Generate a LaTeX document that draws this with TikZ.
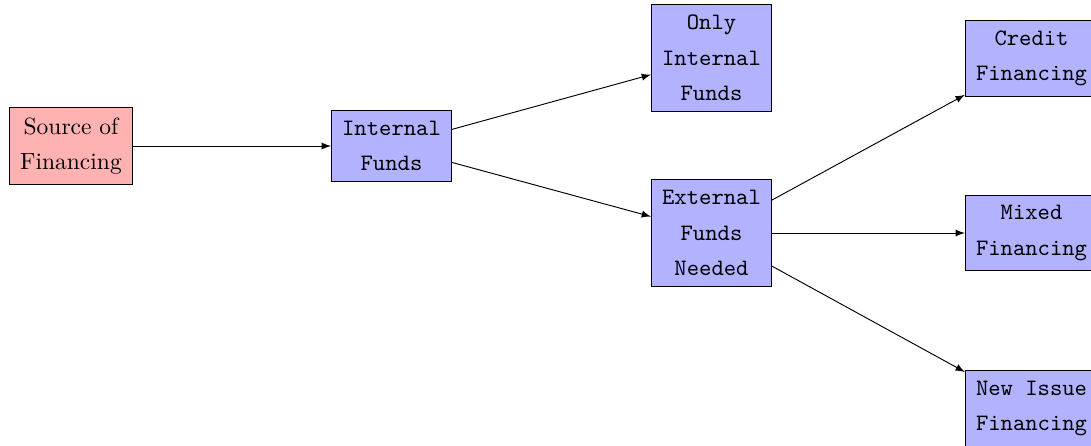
\documentclass[tikz,border=0pt]{standalone}
\usetikzlibrary{arrows}
\begin{document}
\begin{tikzpicture}[
    x=0.42553pt, y=-0.42553pt,
    box/.style={draw, align=center, inner xsep=4.5pt, inner ysep=4.3pt},
    rootbox/.style={box, fill=red!30, font={\rmfamily\fontsize{10}{15.2}\selectfont}},
    stagebox/.style={box, fill=blue!30, font={\ttfamily\fontsize{10}{15.2}\selectfont}},
    link/.style={-latex}
  ]
  \useasboundingbox (0,0) rectangle (1091,445);
  \clip (0,0) rectangle (1091,445);

  % sources
  \node[rootbox]  (src)    at (71,146)    {Source of\\Financing};
  \node[stagebox] (int)    at (391.5,146) {Internal\\Funds};

  % internal vs external
  \node[stagebox] (only)   at (711.5,58)  {Only\\Internal\\Funds};
  \node[stagebox] (ext)    at (711.5,233) {External\\Funds\\Needed};

  % kinds of external financing
  \node[stagebox, anchor=west] (credit) at (965,58.5)  {Credit\\Financing};
  \node[stagebox, anchor=west] (mixed)  at (965,233)   {Mixed\\Financing};
  \node[stagebox, anchor=west] (issue)  at (965,408.5) {New Issue\\Financing};

  \draw[link] (src) -- (int);
  \draw[link] (int) -- (only);
  \draw[link] (int) -- (ext);
  \draw[link] (ext) -- (credit);
  \draw[link] (ext) -- (mixed);
  \draw[link] (ext) -- (issue);
\end{tikzpicture}
\end{document}
